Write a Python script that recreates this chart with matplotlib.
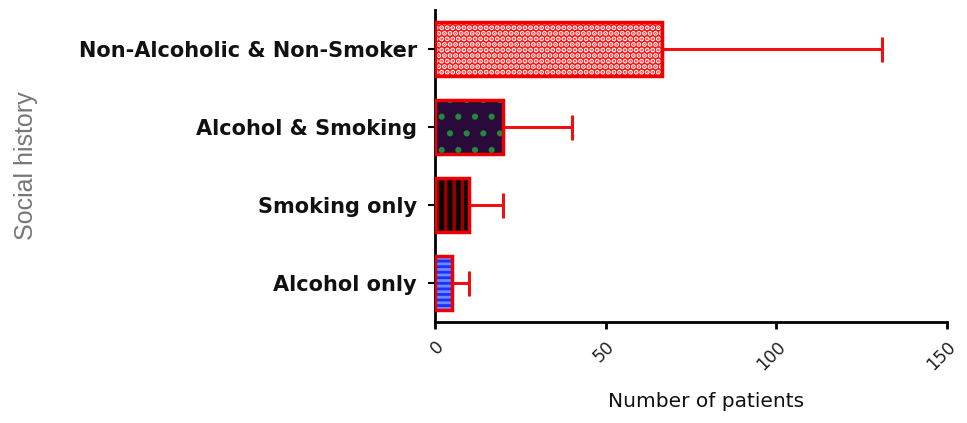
import matplotlib
matplotlib.use('Agg')
import matplotlib.pyplot as plt

# Social history groups, bottom to top
categories = ['Alcohol only', 'Smoking only', 'Alcohol & Smoking', 'Non-Alcoholic & Non-Smoker']
counts = [5, 10, 20, 66.5]
spread = [5, 10, 20, 64.5]
x_ticks = [0, 50, 100, 150]

# Fill, hatch pattern and hatch colour for each bar
fills = ['#1f2fff', '#0a0000', '#2a0a3a', '#ff1010']
hatches = ['---', '||', '.', '...']
hatch_colors = ['#6a8cff', '#9a0000', '#1f8a3a', '#fff4f4']
hatch_widths = [2.0, 2.5, 2.0, 2.6]

fig = plt.figure(figsize=(9.67, 4.23), dpi=100)
ax = fig.add_axes([435 / 967, 1 - 322 / 423, 512 / 967, 312 / 423])

pos = list(range(len(categories)))

for i in pos:
    # solid fill first, then the pattern on top, then the red outline
    ax.barh(pos[i], counts[i], height=0.7, color=fills[i], linewidth=0, zorder=2)
    plt.rcParams['hatch.linewidth'] = hatch_widths[i]
    ax.barh(pos[i], counts[i], height=0.7, facecolor='none', edgecolor=hatch_colors[i],
            hatch=hatches[i], linewidth=0, zorder=3)
    ax.barh(pos[i], counts[i], height=0.7, facecolor='none', edgecolor='#ee0000',
            linewidth=2.5, zorder=4)
    ax.errorbar(counts[i], pos[i], xerr=[[0], [spread[i]]], fmt='none', ecolor='#ee1111',
                elinewidth=2.2, capsize=9, capthick=2.2, zorder=1)

ax.set_xlim(0, 150)
ax.set_ylim(-0.5, 3.5)
ax.set_yticks(pos)
ax.set_yticklabels(categories, fontsize=15, fontweight='bold', color='#111111')
ax.set_xticks(x_ticks)
ax.set_xticklabels([str(t) for t in x_ticks], fontsize=12.5, rotation=45,
                   ha='right', rotation_mode='anchor', color='#222222')

ax.spines['top'].set_visible(False)
ax.spines['right'].set_visible(False)
ax.spines['left'].set_linewidth(2)
ax.spines['bottom'].set_linewidth(2)
ax.tick_params(axis='y', length=5, width=1.5, pad=8)
ax.tick_params(axis='x', length=5, width=2, pad=6)

ax.set_xlabel('Number of patients', fontsize=14.5, fontweight='medium', color='#111111')
ax.xaxis.set_label_coords(0.53, -0.225)
ax.set_ylabel('Social history', fontsize=18, color='#777777', family='Liberation Sans')
ax.yaxis.set_label_coords(-0.775, 0.5)

fig.savefig('out.png', dpi=100)
